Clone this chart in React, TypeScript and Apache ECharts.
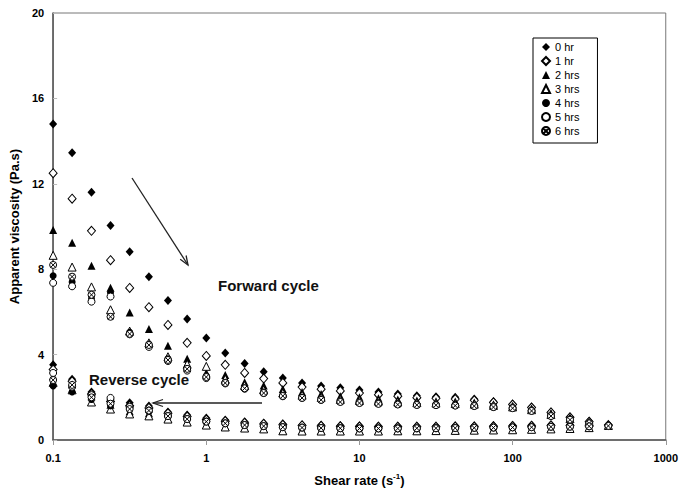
import React, { useEffect, useRef } from "react";
import * as echarts from "echarts";

// Shear rates (s^-1), 8 points per decade
const shearRate = [0.1, 0.133, 0.178, 0.237, 0.316, 0.422, 0.562, 0.75, 1, 1.33, 1.78, 2.37, 3.16, 4.22, 5.62, 7.5, 10, 13.3, 17.8, 23.7, 31.6, 42.2, 56.2, 75, 100, 133, 178, 237, 316, 422];

const seriesNames = ["0 hr", "1 hr", "2 hrs", "3 hrs", "4 hrs", "5 hrs", "6 hrs"];

// Forward cycle apparent viscosity (Pa.s), one value per shear rate
const fwd0 = [14.8, 13.45, 11.6, 10.05, 8.82, 7.65, 6.53, 5.67, 4.78, 4.08, 3.58, 3.2, 2.9, 2.67, 2.53, 2.45, 2.34, 2.25, 2.16, 2.07, 2.03, 2.0, 1.92, 1.8, 1.69, 1.55, 1.31, 1.08, 0.88, 0.7];
const fwd1 = [12.5, 11.3, 9.8, 8.42, 7.12, 6.22, 5.39, 4.55, 3.94, 3.52, 3.14, 2.88, 2.67, 2.48, 2.38, 2.3, 2.2, 2.12, 2.05, 1.98, 1.95, 1.92, 1.86, 1.76, 1.66, 1.52, 1.29, 1.06, 0.86, 0.7];
const fwd2 = [9.84, 9.24, 8.16, 7.13, 5.97, 5.2, 4.41, 3.8, 3.15, 3.05, 2.7, 2.55, 2.39, 2.25, 2.15, 2.05, 2.0, 1.95, 1.9, 1.85, 1.82, 1.8, 1.76, 1.68, 1.6, 1.47, 1.25, 1.03, 0.84, 0.69];
const fwd3 = [8.65, 8.1, 7.17, 6.1, 5.1, 4.55, 3.9, 3.55, 3.45, 2.85, 2.55, 2.35, 2.2, 2.1, 2.0, 1.9, 1.85, 1.82, 1.78, 1.75, 1.73, 1.71, 1.68, 1.62, 1.55, 1.42, 1.2, 1.0, 0.82, 0.68];
const fwd4 = [7.69, 7.4, 6.6, 6.9, 5.05, 4.5, 3.8, 3.35, 3.0, 2.7, 2.45, 2.25, 2.1, 2.0, 1.92, 1.83, 1.78, 1.74, 1.71, 1.68, 1.67, 1.65, 1.63, 1.58, 1.52, 1.39, 1.16, 0.98, 0.8, 0.67];
const fwd5 = [7.36, 7.2, 6.48, 6.72, 4.95, 4.36, 3.7, 3.25, 2.9, 2.65, 2.4, 2.2, 2.05, 1.97, 1.88, 1.8, 1.75, 1.71, 1.68, 1.65, 1.64, 1.62, 1.6, 1.55, 1.5, 1.37, 1.14, 0.96, 0.79, 0.67];
const fwd6 = [8.2, 7.65, 6.8, 5.77, 4.97, 4.45, 3.75, 3.33, 2.95, 2.67, 2.42, 2.2, 2.06, 1.97, 1.88, 1.78, 1.73, 1.69, 1.66, 1.64, 1.63, 1.61, 1.59, 1.54, 1.49, 1.36, 1.12, 0.95, 0.78, 0.66];

// Reverse cycle apparent viscosity (Pa.s), shear rates 0.1 .. 316
const rev0 = [3.52, 2.85, 2.25, 1.88, 1.75, 1.59, 1.31, 1.17, 1.03, 0.94, 0.86, 0.8, 0.76, 0.72, 0.7, 0.68, 0.67, 0.66, 0.66, 0.66, 0.66, 0.67, 0.67, 0.68, 0.69, 0.7, 0.72, 0.72, 0.72];
const rev1 = [3.3, 2.75, 2.15, 1.8, 1.6, 1.5, 1.25, 1.1, 0.96, 0.88, 0.8, 0.75, 0.71, 0.68, 0.66, 0.64, 0.63, 0.62, 0.62, 0.62, 0.62, 0.63, 0.63, 0.64, 0.65, 0.66, 0.68, 0.68, 0.69];
const rev2 = [3.0, 2.6, 2.05, 1.65, 1.35, 1.25, 1.0, 0.86, 0.72, 0.63, 0.57, 0.53, 0.45, 0.44, 0.44, 0.44, 0.44, 0.44, 0.45, 0.45, 0.46, 0.47, 0.48, 0.49, 0.5, 0.52, 0.54, 0.56, 0.6];
const rev3 = [2.7, 2.35, 1.78, 1.45, 1.22, 1.13, 0.98, 0.84, 0.7, 0.61, 0.56, 0.52, 0.43, 0.42, 0.42, 0.42, 0.42, 0.42, 0.43, 0.43, 0.44, 0.45, 0.46, 0.47, 0.48, 0.5, 0.52, 0.54, 0.58];
const rev4 = [2.53, 2.25, 1.9, 1.6, 1.5, 1.4, 1.15, 1.0, 0.88, 0.8, 0.72, 0.67, 0.62, 0.6, 0.58, 0.57, 0.56, 0.56, 0.56, 0.56, 0.57, 0.58, 0.58, 0.59, 0.6, 0.62, 0.64, 0.64, 0.66];
const rev5 = [3.14, 2.5, 2.1, 1.97, 1.55, 1.35, 1.12, 0.98, 0.86, 0.78, 0.7, 0.65, 0.6, 0.58, 0.56, 0.55, 0.54, 0.54, 0.54, 0.54, 0.55, 0.56, 0.57, 0.58, 0.59, 0.6, 0.62, 0.63, 0.64];
const rev6 = [2.81, 2.58, 2.0, 1.7, 1.45, 1.38, 1.12, 0.98, 0.86, 0.78, 0.7, 0.65, 0.6, 0.58, 0.56, 0.55, 0.54, 0.54, 0.54, 0.55, 0.55, 0.56, 0.57, 0.58, 0.59, 0.6, 0.62, 0.62, 0.64];

const forward = [fwd0, fwd1, fwd2, fwd3, fwd4, fwd5, fwd6];
const reverse = [rev0, rev1, rev2, rev3, rev4, rev5, rev6];

const xTickLabels = ["0.1", "1", "10", "100", "1000"];
const yTicks = [0, 4, 8, 12, 16, 20];

const FONT = "'Liberation Sans', Arial, Helvetica, sans-serif";
const crossCircle =
  "path://M0,10 A10,10 0 1 1 20,10 A10,10 0 1 1 0,10 Z M3,3 L17,17 M17,3 L3,17";

const markerStyles = [
  { symbol: "diamond", size: [8, 9], fill: "#000" },
  { symbol: "diamond", size: [8, 9], fill: "#fff" },
  { symbol: "triangle", size: 8, fill: "#000" },
  { symbol: "triangle", size: 8, fill: "#fff" },
  { symbol: "circle", size: 7, fill: "#000" },
  { symbol: "circle", size: 7, fill: "#fff" },
  { symbol: crossCircle, size: 7, fill: "#fff" },
];

export default function App() {
  const ref = useRef<HTMLDivElement>(null);
  useEffect(() => {
    if (!ref.current) return;
    const chart = echarts.init(ref.current, undefined, { renderer: "svg" });
    const series = seriesNames.map((name, s) => {
      const m = markerStyles[s];
      const data = forward[s]
        .map((v, i) => [shearRate[i], v])
        .concat(reverse[s].map((v, i) => [shearRate[i], v]));
      return {
        name,
        type: "scatter",
        data,
        symbol: m.symbol,
        symbolSize: m.size,
        itemStyle: {
          color: m.fill,
          borderColor: "#000",
          borderWidth: m.fill === "#000" ? 0 : 1,
          opacity: 1,
        },
        emphasis: { disabled: true },
      };
    });

    const option = {
      animation: false,
      backgroundColor: "#fff",
      textStyle: { fontFamily: FONT },
      grid: {
        left: 52,
        right: 13,
        top: 13,
        bottom: 52,
        show: true,
        borderColor: "#777",
        borderWidth: 1,
        containLabel: false,
      },
      legend: {
        show: true,
        orient: "vertical",
        left: 533,
        top: 38,
        itemWidth: 8,
        itemHeight: 8,
        itemGap: 0,
        padding: [2, 18, 5, 8],
        borderColor: "#000",
        borderWidth: 1,
        backgroundColor: "#fff",
        selectedMode: false,
        textStyle: { fontSize: 11, lineHeight: 14, color: "#000", fontFamily: FONT },
        data: seriesNames,
      },
      xAxis: {
        type: "log",
        logBase: 10,
        min: 0.1,
        max: 1000,
        name: "{a|Shear rate (s}{sup|-1}{a|)}",
        nameLocation: "middle",
        nameGap: 32,
        nameTextStyle: {
          rich: {
            a: { fontSize: 13, fontWeight: "bold", color: "#000", fontFamily: FONT },
            sup: { fontSize: 8, fontWeight: "bold", color: "#000", fontFamily: FONT, verticalAlign: "top", padding: [0, 0, 8, 0] },
          },
        },
        axisLine: { show: true, lineStyle: { color: "#555", width: 1.5 } },
        axisTick: { show: true, inside: false, length: 5, lineStyle: { color: "#999" } },
        minorTick: { show: false },
        splitLine: { show: false },
        axisLabel: {
          fontSize: 11,
          fontWeight: "bold",
          color: "#000",
          margin: 12,
          fontFamily: FONT,
          formatter: (v: number) => {
            const idx = Math.round(Math.log10(v)) + 1;
            return xTickLabels[idx] ?? String(v);
          },
        },
      },
      yAxis: {
        type: "value",
        min: 0,
        max: 20,
        interval: 4,
        name: "Apparent viscosity (Pa.s)",
        nameLocation: "middle",
        nameGap: 30,
        nameTextStyle: { fontSize: 13, fontWeight: "bold", color: "#000", fontFamily: FONT },
        axisLine: { show: true, lineStyle: { color: "#555", width: 1.5 } },
        axisTick: { show: true, inside: true, length: 4, lineStyle: { color: "#bbb" } },
        splitLine: { show: false },
        axisLabel: {
          fontSize: 11,
          fontWeight: "bold",
          color: "#000",
          margin: 9,
          fontFamily: FONT,
          formatter: (v: number) => (yTicks.includes(v) ? String(v) : ""),
        },
      },
      graphic: [
        { type: "line", shape: { x1: 132, y1: 178, x2: 188, y2: 265 }, style: { stroke: "#222", lineWidth: 1.3 } },
        { type: "polyline", shape: { points: [[180.2, 259.3], [188, 265], [186.1, 255.5]] }, style: { stroke: "#222", lineWidth: 1.3, fill: "none" } },
        { type: "line", shape: { x1: 262, y1: 403, x2: 153, y2: 403 }, style: { stroke: "#222", lineWidth: 1.3 } },
        { type: "polyline", shape: { points: [[163, 399.5], [153, 403], [163, 406.5]] }, style: { stroke: "#222", lineWidth: 1.3, fill: "none" } },
        { type: "text", left: 218, top: 278, style: { text: "Forward cycle", font: `bold 15px ${FONT}`, fill: "#111" } },
        { type: "text", left: 89, top: 372, style: { text: "Reverse cycle", font: `bold 15px ${FONT}`, fill: "#111" } },
      ],
      series,
    };
    chart.setOption(option as any);
    return () => chart.dispose();
  }, []);
  return (
    <div
      ref={ref}
      style={{ position: "absolute", left: 0, top: 0, width: 681, height: 492 }}
    />
  );
}
